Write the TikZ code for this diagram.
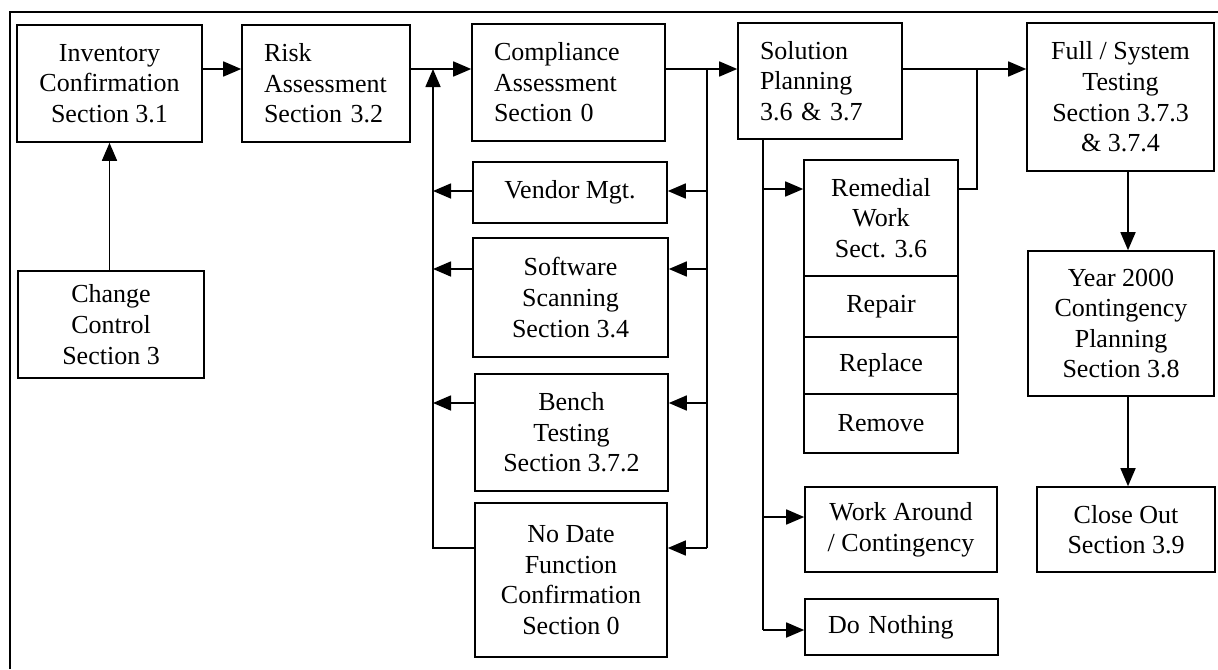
\documentclass[tikz,border=0pt]{standalone}
\usepackage{fontspec}
\setmainfont{Liberation Serif}
\usetikzlibrary{arrows.meta}

\begin{document}
\begin{tikzpicture}[x=0.5pt, y=-0.5pt,
  box/.style={draw, line width=0.8pt, inner sep=0pt, align=center,
    font=\fontsize{13}{15.3}\selectfont},
  sz/.style 2 args={minimum width=#1*0.5pt, minimum height=#2*0.5pt},
  lefttext/.style={align=left, text width=#1*0.5pt},
  link/.style={line width=0.8pt},
  arr/.style={link, -{Triangle[length=9pt, width=7.5pt]}}
]
\useasboundingbox (0,0) rectangle (1218,669);

% outer frame (top and left edges)
\coordinate (fbl) at (10,669);
\coordinate (ftl) at (10,12);
\coordinate (ftr) at (1218,12);
\draw[line width=1pt] (fbl) -- (ftl) -- (ftr);

% process boxes
\node[box, sz={185}{117}] (inv) at (109.5,83.5) {Inventory\\Confirmation\\Section 3.1};
\node[box, sz={168}{117}, lefttext=124] (risk) at (326,83.5) {Risk\\Assessment\\Section 3.2};
\node[box, sz={193}{117}, lefttext=149] (comp) at (568.5,82.5) {Compliance\\Assessment\\Section 0};
\node[box, sz={164}{116}, lefttext=120] (sol) at (820,81) {Solution\\Planning\\3.6 \& 3.7};
\node[box, sz={187}{148}] (full) at (1120.5,97) {Full / System\\Testing\\Section 3.7.3\\\& 3.7.4};
\node[box, sz={186}{107}] (change) at (111,324.5) {Change\\Control\\Section 3};

\node[box, sz={194}{61}] (vendor) at (570,192.5) {Vendor Mgt.};
\node[box, sz={195}{119}] (soft) at (570.5,297.5) {Software\\Scanning\\Section 3.4};
\node[box, sz={193}{117}] (bench) at (571.5,432.5) {Bench\\Testing\\Section 3.7.2};
\node[box, sz={192}{154}] (nodate) at (571,580) {No Date\\Function\\Confirmation\\Section 0};

\node[box, sz={154}{116}] (rem) at (881,218) {Remedial\\Work\\Sect. 3.6};
\node[box, sz={154}{61}] (repair) at (881,306.5) {Repair};
\node[box, sz={154}{57}] (replace) at (881,365.5) {Replace};
\node[box, sz={154}{59}] (remove) at (881,423.5) {Remove};
\node[box, sz={192}{85}] (work) at (901,529.5) {Work Around\\/ Contingency};
\node[box, sz={193}{56}, lefttext=147] (nothing) at (901.5,627) {Do Nothing};

\node[box, sz={186}{145}] (year) at (1121,323.5) {Year 2000\\Contingency\\Planning\\Section 3.8};
\node[box, sz={178}{85}] (close) at (1126,529.5) {Close Out\\Section 3.9};

% routing guides
\coordinate (rowA) at (0,69);
\coordinate (rowV) at (0,191);
\coordinate (rowS) at (0,269);
\coordinate (rowB) at (0,403);
\coordinate (rowN) at (0,548);
\coordinate (rowR) at (0,189);
\coordinate (rowW) at (0,517);
\coordinate (rowD) at (0,630);
\coordinate (busL) at (433,0);
\coordinate (busR) at (707,0);
\coordinate (busS) at (763,0);
\coordinate (busF) at (977,0);
\coordinate (colF) at (1128,0);

% main flow
\draw[arr] (inv.east |- rowA) -- (risk.west |- rowA);
\draw[arr] (risk.east |- rowA) -- (comp.west |- rowA);
\draw[arr] (comp.east |- rowA) -- (sol.west |- rowA);
\draw[arr] (sol.east |- rowA) -- (full.west |- rowA);
\draw[arr] (change.north -| inv.south) -- (inv.south);

% assessment branches
\draw[link] (busR |- rowA) -- (busR |- rowN);
\draw[arr] (busR |- rowV) -- (vendor.east |- rowV);
\draw[arr] (busR |- rowS) -- (soft.east |- rowS);
\draw[arr] (busR |- rowB) -- (bench.east |- rowB);
\draw[arr] (busR |- rowN) -- (nodate.east |- rowN);
\draw[arr] (vendor.west |- rowV) -- (busL |- rowV);
\draw[arr] (soft.west |- rowS) -- (busL |- rowS);
\draw[arr] (bench.west |- rowB) -- (busL |- rowB);
\draw[arr] (nodate.west |- rowN) -- (busL |- rowN) -- (busL |- rowA);

% solution branches
\draw[link] (sol.south -| busS) -- (busS |- rowD);
\draw[arr] (busS |- rowR) -- (rem.west |- rowR);
\draw[arr] (busS |- rowW) -- (work.west |- rowW);
\draw[arr] (busS |- rowD) -- (nothing.west |- rowD);
\draw[link] (rem.east |- rowR) -- (busF |- rowR) -- (busF |- rowA);

% testing and close-out
\draw[arr] (full.south -| colF) -- (year.north -| colF);
\draw[arr] (year.south -| colF) -- (close.north -| colF);
\end{tikzpicture}
\end{document}
